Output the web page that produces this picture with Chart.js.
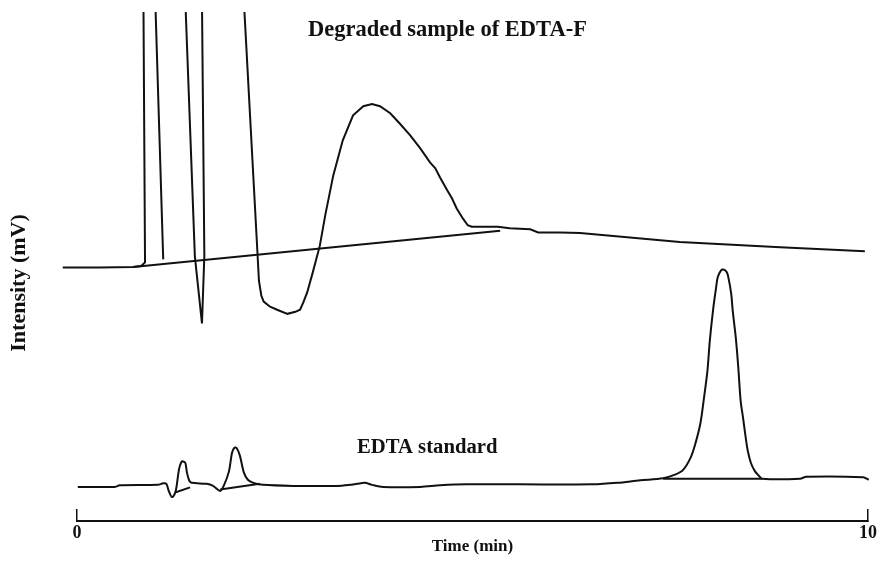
<!DOCTYPE html>
<html>
<head>
<meta charset="utf-8">
<script src="https://cdn.jsdelivr.net/npm/chart.js@4"></script>
<style>
  html, body { margin: 0; padding: 0; background: #fff; }
  #wrap { width: 881px; height: 564px; }
</style>
</head>
<body>
<div id="wrap"><canvas id="chart"></canvas></div>
<script>
// degraded EDTA-F sample (upper trace); null = pen off scale / gap
const upperTime = [-0.18, 0.29, 0.71, 0.81, 0.86, 0.84, 0.84, 0.99, 1.09, 1.09,
  1.37, 1.49, 1.58, 1.61, 1.58, 1.58, 2.11, 2.28, 2.30, 2.33,
  2.36, 2.44, 2.53, 2.66, 2.76, 2.82, 2.86, 2.91, 2.98, 3.07,
  3.14, 3.24, 3.36, 3.49, 3.62, 3.73, 3.83, 3.96, 4.08, 4.21,
  4.34, 4.46, 4.53, 4.59, 4.68, 4.74, 4.80, 4.88, 4.94, 4.99,
  5.10, 5.32, 5.47, 5.73, 5.83, 6.11, 6.36, 7.62, 8.89, 9.96];
const upperSignal = [49.8, 49.8, 49.9, 50.1, 50.8, 102, null, 102, 51.4, null,
  102, 52.0, 38.8, 52.2, 102, null, 102, 53.1, 47.2, 44.3,
  43.1, 42.1, 41.5, 40.7, 41.1, 41.5, 42.9, 44.9, 48.8, 54.1,
  60.2, 67.9, 74.8, 79.7, 81.5, 81.9, 81.5, 80.1, 78.1, 75.8,
  73.2, 70.5, 69.3, 67.5, 65.0, 63.4, 61.4, 59.4, 58.1, 57.8,
  57.8, 57.8, 57.5, 57.3, 56.7, 56.7, 56.6, 54.8, 53.8, 53.0];
const upperBaseTime = [0.71, 5.35];
const upperBaseSignal = [49.9, 57.0];

// EDTA standard (lower trace)
const lowerTime = [0.01, 0.48, 0.54, 1.02, 1.09, 1.13, 1.16, 1.20, 1.24, 1.26,
  1.29, 1.32, 1.34, 1.37, 1.39, 1.42, 1.45, 1.64, 1.72, 1.81,
  1.86, 1.92, 1.96, 1.99, 2.02, 2.06, 2.11, 2.16, 2.23, 2.35,
  2.73, 3.29, 3.45, 3.54, 3.64, 3.73, 3.87, 4.34, 4.59, 4.93,
  5.60, 6.52, 6.83, 7.12, 7.41, 7.56, 7.66, 7.75, 7.81, 7.88,
  7.93, 7.97, 8.00, 8.04, 8.08, 8.10, 8.14, 8.17, 8.21, 8.23,
  8.27, 8.29, 8.33, 8.36, 8.39, 8.42, 8.46, 8.48, 8.52, 8.57,
  8.62, 8.66, 9.14, 9.22, 9.94, 10.01];
const lowerSignal = [6.7, 6.7, 7.0, 7.1, 7.4, 7.3, 5.9, 4.7, 5.5, 6.9,
  10.2, 11.6, 11.7, 11.4, 9.5, 7.9, 7.5, 7.3, 6.9, 5.9,
  7.1, 9.7, 13.4, 14.4, 14.3, 12.8, 9.5, 8.1, 7.5, 7.1,
  6.9, 6.9, 7.1, 7.3, 7.5, 7.1, 6.7, 6.7, 7.0, 7.2,
  7.2, 7.2, 7.5, 8.0, 8.4, 9.1, 10.0, 12.2, 14.8, 19.1,
  24.6, 29.5, 35.4, 41.3, 45.9, 47.9, 49.2, 49.4, 49.0, 48.2,
  44.7, 41.3, 35.8, 30.2, 23.6, 20.3, 15.7, 13.8, 11.4, 9.8,
  8.9, 8.3, 8.3, 8.7, 8.6, 8.1];
const lowerBaseTime = [1.24, 1.43, 1.43, 1.81, 2.31, 2.31, 7.41, 8.66];
const lowerBaseSignal = [5.6, 6.6, null, 6.2, 7.3, null, 8.3, 8.3];

const xTicks = [0, 10];

const SERIF = '"Liberation Serif", "DejaVu Serif", serif';
const INK = '#111';

const pts = (xs, ys) => xs.map((x, i) => ({ x, y: ys[i] }));

const line = (data, tension = 0) => ({
  data,
  borderColor: INK,
  borderWidth: 2,
  pointRadius: 0,
  tension,
  spanGaps: false,
  clip: { left: false, right: false, top: 0, bottom: false },
});

const labels = {
  id: 'labels',
  afterDraw(chart) {
    const { ctx } = chart;
    ctx.save();
    ctx.fillStyle = INK;
    ctx.textBaseline = 'alphabetic';
    ctx.font = `bold 22.5px ${SERIF}`;
    ctx.fillText('Degraded sample of EDTA-F', 308, 36);
    ctx.font = `bold 20.7px ${SERIF}`;
    ctx.fillText('EDTA standard', 357, 453);
    ctx.translate(19, 283);
    ctx.rotate(-Math.PI / 2);
    ctx.textAlign = 'center';
    ctx.textBaseline = 'middle';
    ctx.font = `bold 22px ${SERIF}`;
    ctx.fillText('Intensity (mV)', 0, 0);
    ctx.restore();
  },
};

new Chart(document.getElementById('chart'), {
  type: 'line',
  data: {
    datasets: [
      line(pts(upperTime, upperSignal)),
      line(pts(upperBaseTime, upperBaseSignal)),
      line(pts(lowerTime, lowerSignal), 0.3),
      line(pts(lowerBaseTime, lowerBaseSignal)),
    ],
  },
  options: {
    responsive: true,
    maintainAspectRatio: false,
    animation: false,
    layout: { padding: { left: 77, right: 13, top: 12, bottom: 0 } },
    plugins: { legend: { display: false }, tooltip: { enabled: false } },
    scales: {
      x: {
        type: 'linear',
        min: 0,
        max: 10,
        afterBuildTicks: (s) => { s.ticks = xTicks.map((v) => ({ value: v })); },
        // the "10" label may hang past the plot edge, as in the original
        afterFit: (s) => { s.paddingLeft = 0; s.paddingRight = 0; },
        ticks: { color: INK, padding: 15, font: { family: SERIF, size: 18, weight: 'bold', lineHeight: 1 } },
        grid: { drawOnChartArea: false, drawTicks: true, tickLength: -12, color: INK, lineWidth: 1.5 },
        border: { display: true, color: INK, width: 2 },
        title: {
          display: true,
          text: 'Time (min)',
          color: INK,
          padding: { top: -19, bottom: 9 },
          font: { family: SERIF, size: 17, weight: 'bold', lineHeight: 1 },
        },
      },
      y: { display: false, min: 0, max: 100 },
    },
  },
  plugins: [labels],
});
</script>
</body>
</html>
